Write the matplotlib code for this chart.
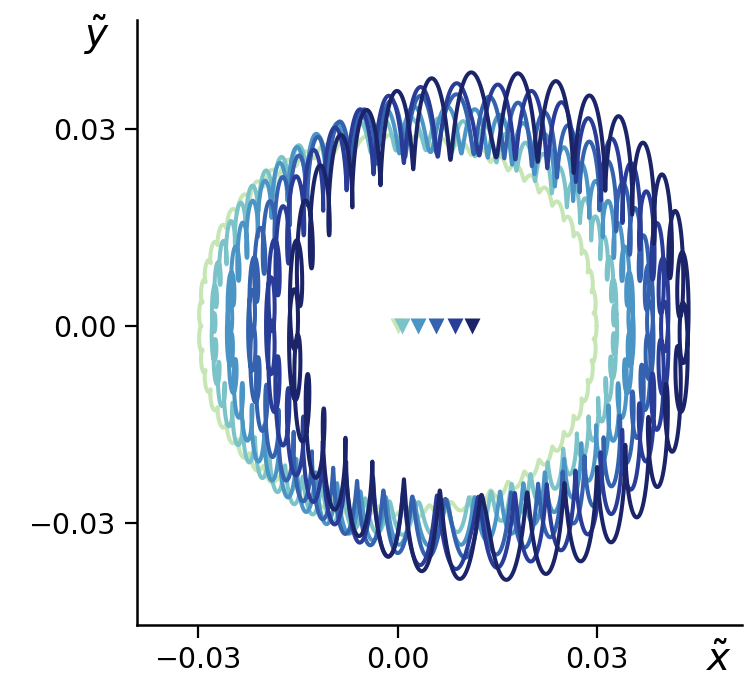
import numpy as np
import matplotlib
matplotlib.use("Agg")
import matplotlib.pyplot as plt

# ---- data ----
marker_x = [0.0000, 0.0006, 0.0030, 0.0058, 0.0086, 0.0112]
orbit_cx = [0.0000, 0.0025, 0.0049, 0.0080, 0.0105, 0.0137]
orbit_rx = [0.0297, 0.0302, 0.0302, 0.0300, 0.0297, 0.0294]
orbit_ry = [0.0283, 0.0293, 0.0300, 0.0308, 0.0315, 0.0322]
orbit_shape = [0.9, 0.9, 0.9, 0.9, 0.9, 0.9]
wiggle_ax = [0.0002, 0.0003, 0.0004, 0.0005, 0.0006, 0.0007]
wiggle_by = [0.0008, 0.0025, 0.0035, 0.0045, 0.0055, 0.0065]
wiggle_n = [60, 56, 50, 44, 38, 33]
wiggle_phase = [0.0, 0.8, 1.6, 2.4, 3.2, 4.0]
colors = ['#c7e6b5', '#7cc3c9', '#4b95c6', '#3462ae', '#283c98', '#1b2468']
xticks = [-0.03, 0.00, 0.03]
yticks = [-0.03, 0.00, 0.03]
xtick_labels = ['\u22120.03', '0.00', '0.03']
ytick_labels = ['\u22120.03', '0.00', '0.03']

fig = plt.figure(figsize=(7.5, 6.89), dpi=100)
ax = fig.add_axes([0.1827, 0.0929, 0.806, 0.878])

t = np.linspace(0, 2 * np.pi, 12000)
c, s = np.cos(t), np.sin(t)
for i in range(len(orbit_cx)):
    q = orbit_shape[i]
    ph = wiggle_phase[i]
    n = wiggle_n[i]
    x = orbit_cx[i] + orbit_rx[i] * np.sign(c) * np.abs(c) ** q + wiggle_ax[i] * np.cos(n * t + ph)
    y = orbit_ry[i] * np.sign(s) * np.abs(s) ** q + wiggle_by[i] * np.sin(n * t + ph)
    ax.plot(x, y, color=colors[i], lw=2.9, solid_capstyle='round', zorder=2 + i)

for i, mx in enumerate(marker_x):
    ax.plot([mx], [0.0], marker='v', ms=12, color=colors[i], mec='none',
            linestyle='none', zorder=20 + i)

ax.set_xlim(-0.0392, 0.0517)
ax.set_ylim(-0.0455, 0.0466)
ax.set_xticks(xticks)
ax.set_xticklabels(xtick_labels)
ax.set_yticks(yticks)
ax.set_yticklabels(ytick_labels)
ax.tick_params(axis='both', labelsize=20.5, length=9, width=1.6, pad=6, direction='out')
for sp in ['top', 'right']:
    ax.spines[sp].set_visible(False)
for sp in ['left', 'bottom']:
    ax.spines[sp].set_linewidth(1.8)

fig.text(97 / 750, 1 - 35 / 689, r'$\tilde{y}$', fontsize=28, ha='center', va='center')
fig.text(718 / 750, 1 - 660 / 689, r'$\tilde{x}$', fontsize=28, ha='center', va='center')

fig.savefig('out.png', dpi=100)
